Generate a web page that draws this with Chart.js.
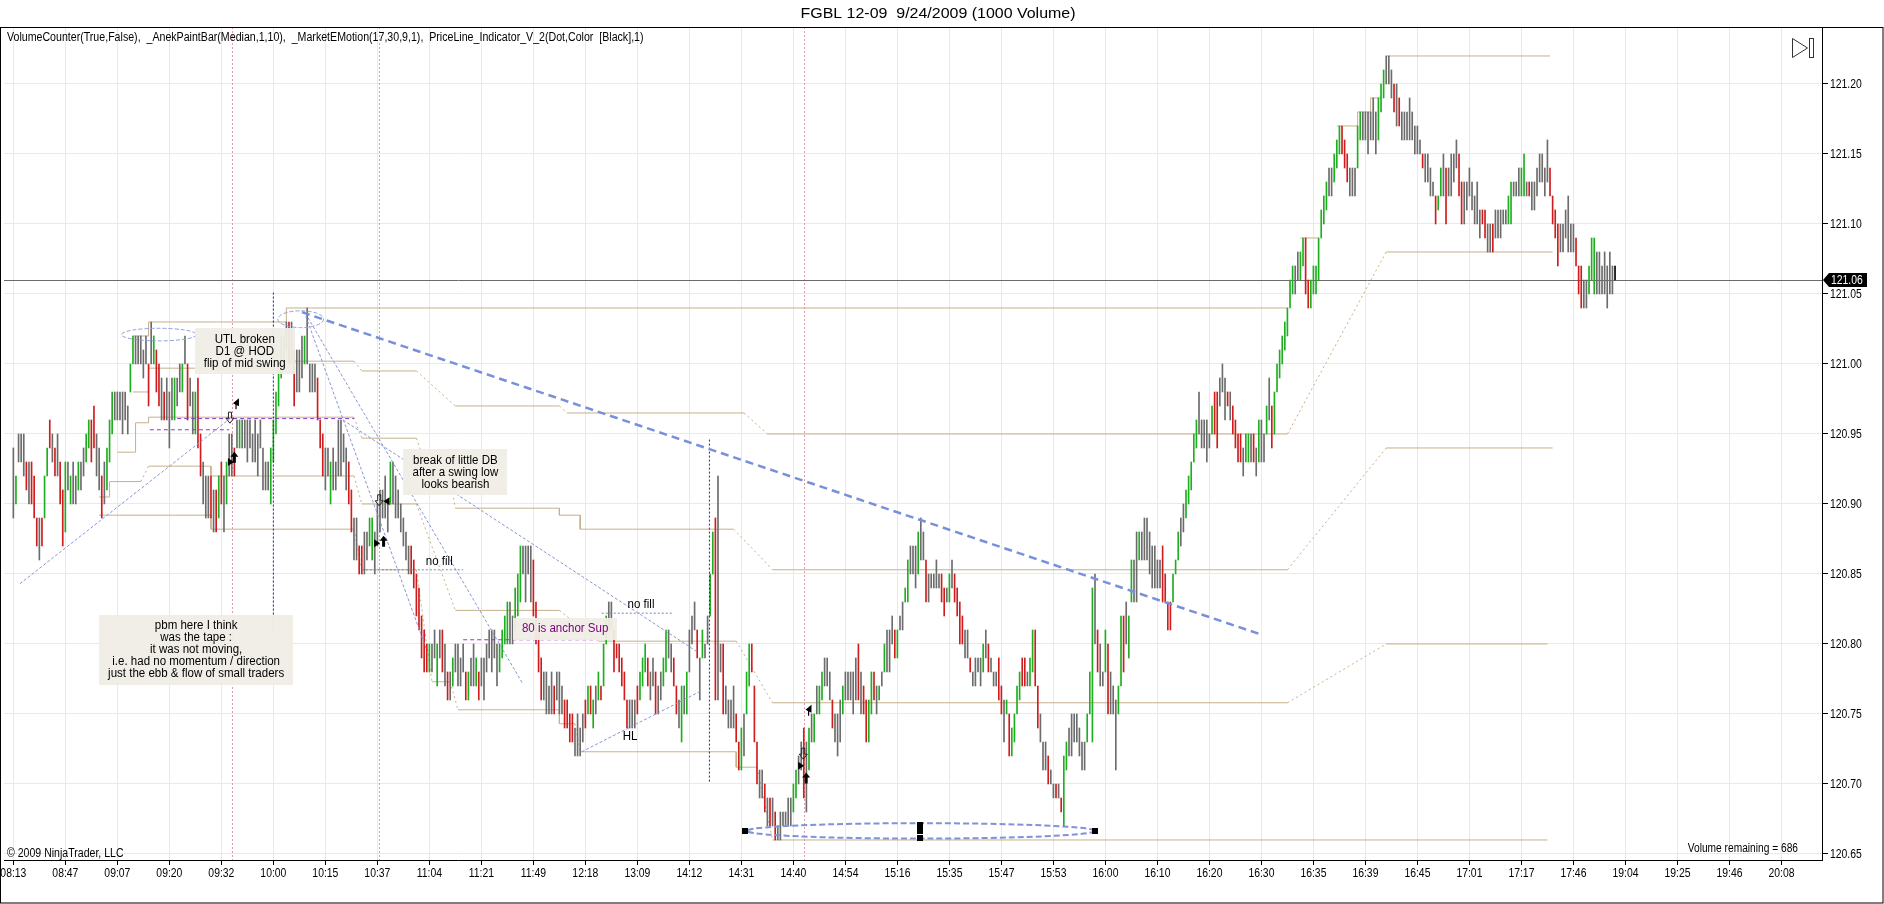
<!DOCTYPE html>
<html>
<head>
<meta charset="utf-8">
<title>FGBL 12-09 9/24/2009 (1000 Volume)</title>
<script src="https://cdn.jsdelivr.net/npm/chart.js@4.4.1/dist/chart.umd.min.js"></script>
<style>
  html, body { margin: 0; padding: 0; background: #fff; }
  canvas { display: block; }
</style>
</head>
<body>
<canvas id="priceChart" width="1884" height="904"></canvas>
<script>
// time label shown under every 20th bar (1000 volume bars)
const timeLabels = ['08:13','08:47','09:07','09:20','09:32','10:00','10:15','10:37','11:04','11:21','11:49','12:18',
  '13:09','14:12','14:31','14:40','14:54','15:16','15:35','15:47','15:53','16:00','16:10','16:20','16:30','16:35',
  '16:39','16:45','17:01','17:17','17:46','19:04','19:25','19:46','20:08'];
const barsPerLabel = 20;
const priceTicks = [120.65, 120.70, 120.75, 120.80, 120.85, 120.90, 120.95, 121.00, 121.05, 121.10, 121.15, 121.20];
const lastPrice = 121.06;

// bar lows / highs, in hundredths above 120.00
const priceBase = 120;
const barLow = [
  89,90,93,93,92,91,90,90,89,87,  86,87,89,92,94,93,92,92,90,87,  88,91,90,90,90,91,91,92,93,94,
  93,94,92,91,89,90,91,93,95,96,  96,96,95,96,95,98,100,100,100,100,  99,100,97,100,100,98,97,96,96,96,
  94,96,96,97,98,98,100,96,97,95,  95,94,92,90,89,89,89,88,88,89,  90,88,90,92,92,92,94,94,94,94,
  93,94,93,93,92,94,91,91,91,90,  93,95,97,99,100,101,100,100,97,98,  98,99,100,100,98,98,98,96,94,92,
  91,92,90,91,91,92,92,93,91,90,  88,86,86,85,85,85,86,87,86,85,  87,88,89,89,88,90,90,89,89,88,
  87,86,85,85,84,82,81,79,78,78,  78,78,79,77,79,78,77,76,76,77,  78,77,77,78,76,76,77,77,77,76,
  77,76,78,79,78,79,77,78,79,80,  80,80,80,81,82,83,85,83,85,83,  82,80,78,76,76,75,75,75,75,76,
  75,75,74,74,73,73,72,72,72,73,  74,75,75,74,75,76,76,77,80,81,  81,78,79,78,77,76,74,74,74,74,
  75,76,77,78,77,76,77,75,75,76,  77,78,79,78,77,75,74,73,75,75,  78,80,81,79,76,79,79,80,82,85,
  76,76,78,75,75,74,74,74,73,71,  71,72,75,77,78,73,70,69,69,68,  67,67,67,66,66,66,67,67,67,67,
  68,69,70,71,69,68,71,73,73,75,  75,76,77,77,76,74,73,72,73,75,  76,76,76,75,76,76,75,75,73,73,
  75,76,75,76,77,78,78,78,80,79,  79,81,81,83,83,85,85,84,85,86,  86,83,83,84,84,84,84,83,82,83,
  83,84,83,82,80,80,79,79,78,77,  77,78,77,78,79,78,78,77,77,76,  75,73,75,72,72,73,75,76,77,77,
  77,77,78,77,74,73,71,71,70,70,  69,69,69,68,67,71,72,72,73,73,  72,71,71,73,75,73,80,78,77,77,
  78,75,75,75,71,75,77,78,80,79,  83,83,83,86,86,86,86,85,84,84,  84,84,83,83,81,81,83,85,86,87,
  88,89,90,91,93,94,95,94,94,93,  94,95,95,94,97,98,96,97,96,95,  94,93,93,92,93,93,93,93,92,93,
  93,93,95,96,94,95,98,99,100,101,  102,104,105,105,106,106,107,105,104,104,  105,105,106,109,110,111,112,112,113,114,
  115,115,114,113,112,112,112,114,116,116,  116,115,116,116,115,116,118,119,120,120,  119,118,117,117,116,116,116,116,116,115,
  115,115,114,113,113,112,112,110,111,112,  112,110,112,112,113,114,112,110,110,111,  112,111,110,110,109,110,109,108,108,108,
  109,109,109,110,110,110,110,112,112,112,  112,112,112,112,111,111,112,113,113,112,  113,112,110,109,107,108,108,109,108,108,
  108,107,105,104,104,104,105,106,105,105,  105,105,105,104,105,105,106
];
const barHigh = [
  94,92,95,95,95,93,93,93,92,89,  89,89,92,94,96,95,94,95,93,91,  93,93,92,93,92,93,93,94,95,96,
  96,97,95,94,92,93,94,96,98,98,  98,98,98,98,97,100,102,102,102,102,  101,102,100,103,102,101,100,99,98,99,
  98,99,99,99,100,100,102,100,99,98,  98,99,95,93,92,92,92,91,91,92,  93,92,93,95,95,94,96,96,96,96,
  96,96,95,96,95,96,94,93,93,94,  96,98,100,102,102,103,103,103,101,101,  101,102,102,104,100,100,100,99,96,95,
  94,94,93,94,93,96,96,95,94,93,  91,89,89,87,87,88,88,89,89,88,  90,91,91,92,90,93,93,92,91,90,
  89,88,87,87,86,85,84,82,81,80,  80,80,81,80,81,81,80,78,78,79,  80,80,79,80,78,78,79,80,79,78,
  79,79,80,81,81,81,80,80,81,82,  83,83,82,84,85,87,87,87,87,87,  86,83,81,79,78,78,77,78,77,78,
  78,77,76,76,75,75,74,75,74,75,  76,77,77,76,77,78,77,80,82,83,  83,81,80,80,79,78,76,76,76,76,
  77,78,79,80,79,78,79,78,77,78,  79,81,81,80,79,77,76,77,77,78,  81,82,83,81,79,81,80,82,85,88,
  89,92,80,80,77,76,76,77,75,73,  74,75,78,80,80,77,73,71,71,70,  69,69,69,68,67,68,68,68,69,69,
  70,71,72,73,74,73,74,75,75,77,  77,78,79,79,78,76,75,75,76,77,  78,78,78,78,79,80,78,77,76,76,
  78,78,77,77,78,80,81,81,82,81,  81,82,83,84,86,87,87,87,88,89,  88,86,85,85,85,86,85,85,84,84,
  85,86,85,84,83,82,81,81,79,78,  79,79,79,80,81,80,79,78,78,79,  77,76,76,75,74,75,77,78,79,79,
  78,79,81,81,77,75,73,73,72,71,  70,70,70,69,72,73,74,75,75,75,  74,73,73,75,78,84,85,81,80,78,
  81,80,78,77,76,77,82,82,83,82,  86,86,88,88,88,89,89,88,87,87,  86,86,87,85,83,83,85,86,88,89,
  90,91,92,93,95,96,98,96,96,96,  95,97,98,98,99,100,99,98,98,97,  96,95,95,94,95,95,95,95,94,96,
  96,95,97,99,97,98,100,101,102,103,  104,106,107,107,108,108,109,109,106,106,  107,107,109,111,112,113,114,114,115,116,
  117,117,116,115,114,114,114,117,118,118,  118,118,118,119,118,119,120,121,122,122,  121,120,120,119,118,118,118,119,118,117,
  117,116,115,115,115,114,113,112,112,114,  115,114,114,115,115,116,115,113,113,113,  114,113,112,113,111,111,111,110,110,110,
  111,111,111,111,111,112,113,113,113,114,  114,115,113,113,113,113,114,115,115,114,  116,114,112,111,110,110,110,111,112,110,
  110,109,107,107,106,106,107,109,109,108,  108,107,108,107,108,107,107
];
// paint-bar colour per bar: g = up, r = down, x = neutral, k = current bar
const barColor =
  'xgxxxrxrrr' + 'xrggrxrxrr' + 'gxgxxgxxgg' + 'rrxxrxgggx' + 'xxxxxggxxx' + 'xxrxgrrxrx' +
  'xxgxxgxrxx' + 'grrxxxrxrg' + 'rxgxxrxgxx' + 'xxxxxxxxxg' + 'gggggxrxrx' + 'xxgxxxxrrr' +
  'xxgxxxxxxr' + 'rxxrrxxggx' + 'xxxxxgxxxx' + 'xxxrrrrrrr' + 'gxxgxrxrxg' + 'xxxxrgxxgr' +
  'xxxxxxxggg' + 'gxxgggxxxx' + 'rrrrxxxxrx' + 'xxrrrrxxxx' + 'rgrgxgrggx' + 'xrrrrrrxxx' +
  'rgggrxxrxx' + 'ggxxrrxgxg' + 'xxxrxgxxgg' + 'rxxrxxxxrr' + 'gxggrrrxxr' + 'xrxrxxxxxx' +
  'ggxxrxgxgx' + 'ggxxxrxxxg' + 'xxxxxrxrrg' + 'grxgxgxxxr' + 'gxxggxxxgx' + 'xrxxxxxrrx' +
  'gxrrrrxxrx' + 'xxxgxrxxxr' + 'rxgrggggrr' + 'xggrrxxxrx' + 'xrxrggxxxx' + 'xxxgggxrxx' +
  'grxxxggrxg' + 'gxxgxxxxxx' + 'xxrrrrgggx' + 'xgggggxxxx' + 'xgrrxxxrxr' + 'rrrxggxrxg' +
  'xxgxrggggg' + 'gggxxggrrg' + 'ggggggxxgg' + 'grrrxxxggx' + 'xxxxxgggxx' + 'xrxrxxxxxx' +
  'xxrxxxxrgg' + 'xrxxxxrrxx' + 'xxxxxrrxxr' + 'xxxxxggxxx' + 'ggxrxxxxxx' + 'xrrrrxxxxx' +
  'xrrrxxgggx' + 'xxxxxxk';

// MarketEMotion levels: [first bar, last bar, level in hundredths], null = break
const bandUpper = [[46,52,102],[52,105,103],[105,490,104], null, [495,502,109], null,
  [509,517,117],[517,522,118],[522,526,119], null, [528,591,122]];
const bandMid1 = [[46,52,98],[52,104,99.7],[104,131,100.2],[134,155,99.5],[170,210,97],[213,281,96.5],
  [290,490,95],[528,592,108]];
const bandMid2 = [[40,47,93.7],[47,52,95.8],[52,131,96.2],[134,155,94.7],[162,169,90.8],[170,210,89.7],
  [210,218,89.2],[218,277,88.2],[292,490,85.3],[528,592,94]];
const bandMid3 = [[33,37,90.5],[37,49,91.6],[52,76,92.7],[76,131,92],[134,155,90],[170,210,82.4],
  [225,278,80.2],[292,490,75.8],[528,590,80]];
const bandLower = [[33,76,89.2],[76,131,88.2],[134,155,85.3],[161,168,77.3],[171,210,75.3],[210,216,74.3],
  [218,278,72.3],[278,286,71.2],[292,590,66]];

// drawn lines: [bar, level in hundredths] pairs
const trendMain = [[111,103.7],[479.5,80.7]];
const fanLineA = [[112.5,103.4],[158.7,79.7]];
const fanLineB = [[113.3,103.3],[195.8,77.2]];
const fanLineC = [[126.8,96],[263.4,79.4]];
const upTrendLine = [[2.5,84.3],[84,96.2]];
const higherLowLine = [[218.6,72.3],[264,76.6]];
const noFillLevels = [[134,173,85.3],[226.3,253.2,82.2]];
const supportLevels = [[52.5,83,95.3],[63,131,96.1],[173,225,80.3]];
const blueMarkers = [[100,105.1,80.9],[267.7,94.6,70.1]];
const pinkMarkerBars = [84, 140.5, 304];

// [centre bar, centre level, half width in bars, half height in hundredths]
const ellipses = [[56,102.1,14.4,0.45],[110.5,103.2,8.8,0.6],[349,66.65,67,0.55]];
const anchorSquares = [[281.5,66.65],[348.5,67.1],[348.5,66.65],[348.5,66.15],[416,66.65]];
const signals = [[85.6,97.2,'flag'],[83.3,96.2,'down'],[85,93.3,'up'],[83.3,93,'right'],
  [140.7,90.3,'down'],[143.9,90.2,'left'],[142.4,87.3,'up'],[139.5,87.2,'right'],
  [305.8,75.3,'flag'],[303.8,72.2,'down'],[302.6,71.3,'right'],[304.9,70.4,'up']];
const notes = [
  { text: ['UTL broken','D1 @ HOD','flip of mid swing'], bar: 89, level: 100.9, box: true },
  { text: ['break of little DB','after a swing low','looks bearish'], bar: 170, level: 92.25, box: true },
  { text: ['pbm here I think','was the tape :','it was not moving,','i.e. had no momentum / direction',
           'just the ebb & flow of small traders'], bar: 70.3, level: 79.6, box: true },
  { text: ['no fill'], bar: 163.8, level: 85.9 },
  { text: ['no fill'], bar: 241.4, level: 82.8 },
  { text: ['80 is anchor Sup'], bar: 212.2, level: 81.1, box: true, color: '#800080' },
  { text: ['HL'], bar: 237.2, level: 73.4 }
];

const FONT = '"Liberation Sans", Arial, sans-serif';
const toPrice = (t) => priceBase + t / 100;
const paint = { g: '#1fae1f', r: '#d01c1c', x: '#6c6c6c', k: '#000000' };

function levelPoints(segs) {
  const pts = [];
  segs.forEach((s) => {
    if (s === null) {
      pts.push({ x: pts[pts.length - 1].x + 0.01, y: null });
      return;
    }
    pts.push({ x: s[0], y: toPrice(s[2]) }, { x: s[1], y: toPrice(s[2]) });
  });
  return pts;
}

function levelSet(label, segs) {
  return {
    type: 'line', label: label, order: 3,
    data: levelPoints(segs),
    borderColor: '#c6b08b', borderWidth: 1, pointRadius: 0, spanGaps: false, tension: 0,
    segment: {
      borderDash: (c) => (c.p0.parsed.x !== c.p1.parsed.x && c.p0.parsed.y !== c.p1.parsed.y) ? [2, 3] : undefined
    }
  };
}

function straight(label, pts, color, width, dash) {
  return {
    type: 'line', label: label, order: 1,
    data: pts.map((p) => ({ x: p[0], y: toPrice(p[1]) })),
    borderColor: color, borderWidth: width, borderDash: dash, pointRadius: 0, tension: 0
  };
}

function narrowText(ctx, str, x, y, size, sx, align, color) {
  ctx.save();
  ctx.font = size + 'px ' + FONT;
  ctx.fillStyle = color || '#000';
  ctx.textBaseline = 'middle';
  ctx.textAlign = align || 'left';
  ctx.translate(x, y);
  ctx.scale(sx, 1);
  ctx.fillText(str, 0, 0);
  ctx.restore();
}

function textWidth(ctx, str, size, sx) {
  ctx.save();
  ctx.font = size + 'px ' + FONT;
  const w = ctx.measureText(str).width * sx;
  ctx.restore();
  return w;
}

const decor = {
  id: 'decor',
  beforeDraw(chart) {
    const { ctx, width, height } = chart;
    ctx.save();
    ctx.fillStyle = '#ffffff';
    ctx.fillRect(0, 0, width, height);
    ctx.restore();
  },
  beforeDatasetsDraw(chart) {
    const { ctx, chartArea: a, scales: { x, y } } = chart;
    ctx.save();
    ctx.lineWidth = 1;
    ctx.strokeStyle = '#e09aac';
    ctx.setLineDash([2, 2]);
    pinkMarkerBars.forEach((b) => {
      const px = Math.round(x.getPixelForValue(b)) + 0.5;
      ctx.beginPath(); ctx.moveTo(px, a.top); ctx.lineTo(px, a.bottom); ctx.stroke();
    });
    ctx.setLineDash([]);
    ctx.strokeStyle = '#6b6b6b';
    const py = Math.round(y.getPixelForValue(lastPrice)) + 0.5;
    ctx.beginPath(); ctx.moveTo(a.left, py); ctx.lineTo(a.right, py); ctx.stroke();
    ctx.restore();
  },
  afterDatasetsDraw(chart) {
    const { ctx, scales: { x, y } } = chart;
    const X = (b) => x.getPixelForValue(b);
    const Y = (t) => y.getPixelForValue(toPrice(t));
    ctx.save();
    // ellipses
    ellipses.forEach((e, k) => {
      const big = k === ellipses.length - 1;
      ctx.strokeStyle = big ? '#7f93d6' : '#8ea0da';
      ctx.lineWidth = big ? 2 : 1;
      ctx.setLineDash(big ? [6, 3] : [4, 2]);
      ctx.beginPath();
      ctx.ellipse(X(e[0]), Y(e[1]), Math.abs(X(e[0] + e[2]) - X(e[0])), Math.abs(Y(e[1] + e[3]) - Y(e[1])), 0, 0, Math.PI * 2);
      ctx.stroke();
    });
    ctx.setLineDash([]);
    ctx.fillStyle = '#000';
    anchorSquares.forEach((s) => ctx.fillRect(Math.round(X(s[0])) - 3, Math.round(Y(s[1])) - 3, 6, 6));
    // trade signal glyphs
    signals.forEach((s) => {
      const cx = X(s[0]), cy = Y(s[1]);
      ctx.beginPath();
      if (s[2] === 'up') {
        ctx.moveTo(cx, cy - 6); ctx.lineTo(cx + 4, cy - 1); ctx.lineTo(cx + 1.5, cy - 1); ctx.lineTo(cx + 1.5, cy + 5);
        ctx.lineTo(cx - 1.5, cy + 5); ctx.lineTo(cx - 1.5, cy - 1); ctx.lineTo(cx - 4, cy - 1); ctx.closePath(); ctx.fill();
      } else if (s[2] === 'down') {
        ctx.strokeStyle = '#222'; ctx.lineWidth = 1;
        ctx.moveTo(cx, cy + 6); ctx.lineTo(cx + 4, cy + 1); ctx.lineTo(cx + 1.5, cy + 1); ctx.lineTo(cx + 1.5, cy - 5);
        ctx.lineTo(cx - 1.5, cy - 5); ctx.lineTo(cx - 1.5, cy + 1); ctx.lineTo(cx - 4, cy + 1); ctx.closePath(); ctx.stroke();
      } else if (s[2] === 'right') {
        ctx.moveTo(cx + 4, cy); ctx.lineTo(cx - 2, cy - 4); ctx.lineTo(cx - 2, cy + 4); ctx.closePath(); ctx.fill();
      } else if (s[2] === 'left') {
        ctx.moveTo(cx - 4, cy); ctx.lineTo(cx + 2, cy - 4); ctx.lineTo(cx + 2, cy + 4); ctx.closePath(); ctx.fill();
      } else {
        ctx.moveTo(cx - 3, cy); ctx.lineTo(cx + 3, cy - 5); ctx.lineTo(cx + 3, cy + 3); ctx.closePath(); ctx.fill();
        ctx.fillRect(cx - 0.5, cy, 1.2, 6);
      }
    });
    // notes
    notes.forEach((n) => {
      const size = 12, sx = 0.96, lh = 12;
      const w = Math.max.apply(null, n.text.map((t) => textWidth(ctx, t, size, sx)));
      const cx = X(n.bar), cy = Y(n.level);
      const h = n.text.length * lh;
      if (n.box) {
        ctx.fillStyle = 'rgba(240,237,230,0.95)';
        ctx.fillRect(Math.round(cx - w / 2 - 9), Math.round(cy - h / 2 - 5), Math.round(w + 18), Math.round(h + 10));
      }
      n.text.forEach((t, k) => narrowText(ctx, t, cx, cy - h / 2 + lh * (k + 0.5), size, sx, 'center', n.color || '#000'));
    });
    ctx.restore();
  },
  afterDraw(chart) {
    const { ctx, chartArea: a, scales: { x, y }, width, height } = chart;
    ctx.save();
    // frame
    ctx.strokeStyle = '#000';
    ctx.lineWidth = 1;
    ctx.strokeRect(0.5, a.top + 0.5, width - 1.5, height - a.top - 1.5);
    // texts
    narrowText(ctx, 'FGBL 12-09  9/24/2009 (1000 Volume)', width / 2 - 4, 14, 14, 1.14, 'center');
    narrowText(ctx, 'VolumeCounter(True,False),  _AnekPaintBar(Median,1,10),  _MarketEMotion(17,30,9,1),  PriceLine_Indicator_V_2(Dot,Color  [Black],1)',
      a.left + 3, a.top + 11, 12, 0.885, 'left');
    narrowText(ctx, '\u00a9 2009 NinjaTrader, LLC', a.left + 3, a.bottom - 6, 12, 0.88, 'left');
    narrowText(ctx, 'Volume remaining = 686', a.right - 24, a.bottom - 11, 12, 0.85, 'right');
    // axis labels
    x.ticks.forEach((t, k) => {
      if (timeLabels[k]) narrowText(ctx, timeLabels[k], x.getPixelForValue(t.value), a.bottom + 13, 13, 0.8, 'center');
    });
    priceTicks.forEach((p) => narrowText(ctx, p.toFixed(2), a.right + 8, y.getPixelForValue(p), 13, 0.8, 'left'));
    // last price tag
    const py = Math.round(y.getPixelForValue(lastPrice));
    ctx.fillStyle = '#000';
    ctx.beginPath();
    ctx.moveTo(a.right + 1, py); ctx.lineTo(a.right + 7, py - 7); ctx.lineTo(a.right + 45, py - 7);
    ctx.lineTo(a.right + 45, py + 7); ctx.lineTo(a.right + 7, py + 7); ctx.closePath(); ctx.fill();
    narrowText(ctx, lastPrice.toFixed(2), a.right + 9, py, 13, 0.8, 'left', '#fff');
    // scroll-to-end icon
    const ix = a.right - 29.5, iy = a.top + 11.5;
    ctx.strokeStyle = '#333';
    ctx.beginPath(); ctx.moveTo(ix, iy); ctx.lineTo(ix + 15, iy + 9.5); ctx.lineTo(ix, iy + 19); ctx.closePath(); ctx.stroke();
    ctx.strokeRect(ix + 17, iy, 4, 19);
    ctx.restore();
  }
};

document.addEventListener('DOMContentLoaded', function () {
  const ctx = document.getElementById('priceChart').getContext('2d');
  const bars = barLow.map((lo, i) => ({ x: i, y: [toPrice(lo), toPrice(barHigh[i])] }));

  new Chart(ctx, {
    type: 'bar',
    data: {
      datasets: [
        {
          label: 'FGBL 12-09',
          order: 2,
          data: bars,
          backgroundColor: bars.map((b, i) => paint[barColor[i]] || paint.x),
          borderWidth: 0,
          barThickness: 1,
          grouped: false
        },
        levelSet('Upper', bandUpper),
        levelSet('Mid 1', bandMid1),
        levelSet('Mid 2', bandMid2),
        levelSet('Mid 3', bandMid3),
        levelSet('Lower', bandLower),
        straight('Trend', trendMain, '#7890dc', 2.5, [8, 5]),
        straight('Fan A', fanLineA, '#8797d6', 1, [3, 2]),
        straight('Fan B', fanLineB, '#8797d6', 1, [3, 2]),
        straight('Fan C', fanLineC, '#8797d6', 1, [3, 2]),
        straight('UTL', upTrendLine, '#8797d6', 1, [3, 2]),
        straight('HL', higherLowLine, '#8797d6', 1, [3, 2]),
        ...noFillLevels.map((l, k) => straight('No fill ' + k, [[l[0], l[2]], [l[1], l[2]]], '#7585bd', 1, [2, 2])),
        ...supportLevels.map((l, k) => straight('Support ' + k, [[l[0], l[2]], [l[1], l[2]]], '#8b3bc4', 1, [4, 3])),
        ...blueMarkers.map((l, k) => straight('Marker ' + k, [[l[0], l[1]], [l[0], l[2]]], '#1f1fa6', 1, [2, 2]))
      ]
    },
    options: {
      responsive: false,
      animation: false,
      devicePixelRatio: 1,
      layout: { padding: { left: 4, top: 27, right: 0, bottom: 0 } },
      plugins: { legend: { display: false }, tooltip: { enabled: false }, title: { display: false } },
      scales: {
        x: {
          type: 'linear',
          offset: false,
          min: -3.6,
          max: 695.6,
          afterBuildTicks: (s) => { s.ticks = timeLabels.map((t, k) => ({ value: k * barsPerLabel })); },
          afterFit: (s) => { s.height = 44; },
          grid: { color: '#ece9e1', tickColor: '#000', tickLength: 5, offset: false },
          border: { color: '#000' },
          ticks: { autoSkip: false, maxRotation: 0, color: 'rgba(0,0,0,0)', font: { size: 10 } }
        },
        y: {
          position: 'right',
          min: 120.6457,
          max: 121.2407,
          afterBuildTicks: (s) => { s.ticks = priceTicks.map((v) => ({ value: v })); },
          afterFit: (s) => { s.width = 62; },
          grid: { color: '#ece9e1', tickColor: '#000', tickLength: 6 },
          border: { color: '#000' },
          ticks: { color: 'rgba(0,0,0,0)', font: { size: 10 } }
        }
      }
    },
    plugins: [decor]
  });
});
</script>
</body>
</html>
